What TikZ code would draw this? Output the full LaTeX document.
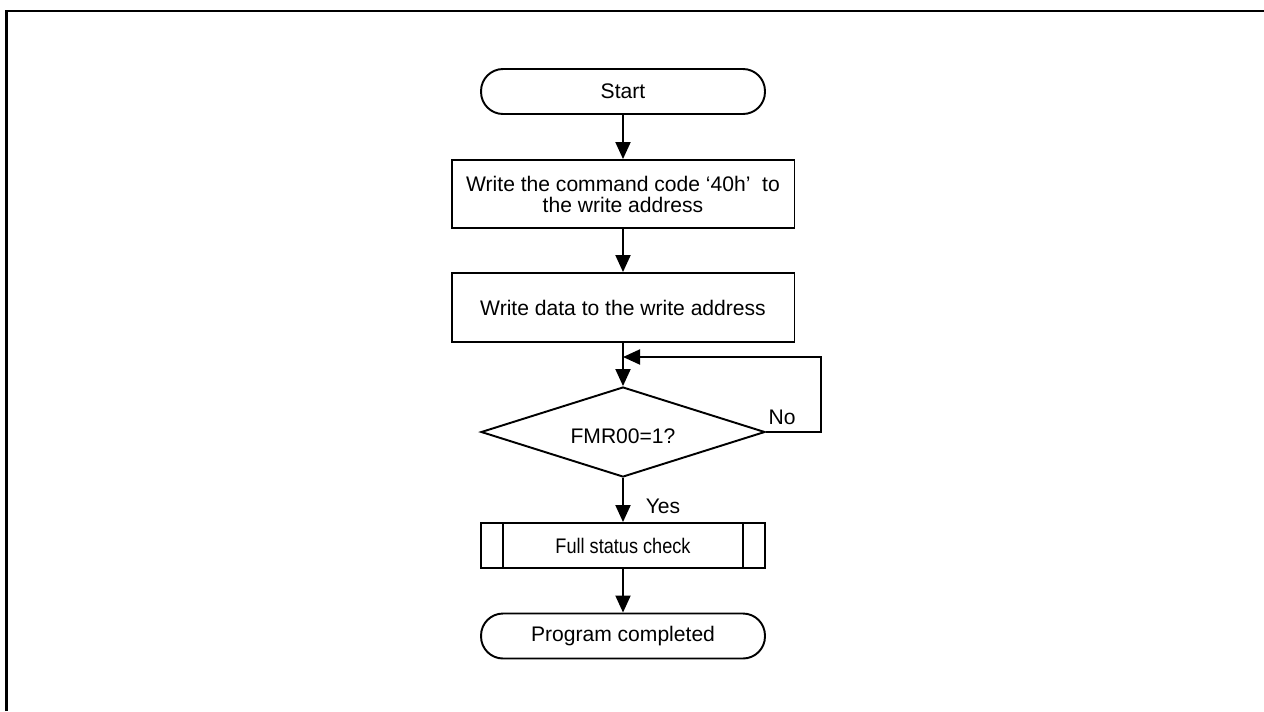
\documentclass[tikz,border=0pt]{standalone}
\usepackage{fontspec}
\setmainfont{Liberation Sans}
\newfontfamily\narrowfont[FakeStretch=0.86]{Liberation Sans}
\usetikzlibrary{shapes.geometric,arrows.meta}
\begin{document}
\begin{tikzpicture}[x=0.02cm,y=-0.02cm,
  font=\fontsize{12pt}{12pt}\selectfont,
  every node/.style={inner sep=0pt},
  line/.style={line width=1.1pt},
  arr/.style={line width=1.1pt,-{Triangle[length=0.34cm,width=0.3cm]}},
  term/.style={draw,line width=1.1pt,rectangle,rounded corners=0.44cm,minimum width=5.68cm,minimum height=0.9cm},
  procbox/.style={draw,line width=1.1pt,rectangle,minimum width=6.86cm,align=center},
  decision/.style={draw,line width=1.1pt,diamond,minimum width=5.68cm,minimum height=1.8cm},
  predef/.style={draw,line width=1.1pt,rectangle,minimum width=5.68cm,minimum height=0.9cm},
  lbl/.style={inner sep=0pt}]
\useasboundingbox (0,0) rectangle (1264,711);
\fill[white] (0,0) rectangle (1264,711);
% frame
\draw[line width=1.7pt] (6.5,711) -- (6.5,11) -- (1264,11);

\node[term] (start) at (623,91.5) {Start};
\node[procbox,minimum height=1.36cm] (cmd) at (623,194) {Write the command code ‘40h’~ to\\the write address};
\node[procbox,minimum height=1.38cm] (data) at (623,307.5) {Write data to the write address};
\node[decision] (dec) at (623,432) {};
\node[lbl] (fmr) at (623,436) {FMR00=1?};
\node[predef] (fsc) at (623,545.5) {\narrowfont Full status check};
\draw[line] ([xshift=0.46cm]fsc.north west) -- ([xshift=0.46cm]fsc.south west);
\draw[line] ([xshift=-0.46cm]fsc.north east) -- ([xshift=-0.46cm]fsc.south east);
\node[term] (done) at (623,636) {Program completed};

\coordinate (join) at (623,357);
\coordinate (loopc) at (821,432);

\draw[arr] (start.south) -- (cmd.north);
\draw[arr] (cmd.south) -- (data.north);
\draw[arr] (data.south) -- (dec.north);
\draw[arr] (dec.east) -- (loopc) |- (join);
\draw[arr] (dec.south) -- (fsc.north);
\draw[arr] (fsc.south) -- (done.north);

\node[lbl] (no) at (782,417) {No};
\node[lbl] (yes) at (663,506) {Yes};
\end{tikzpicture}
\end{document}
